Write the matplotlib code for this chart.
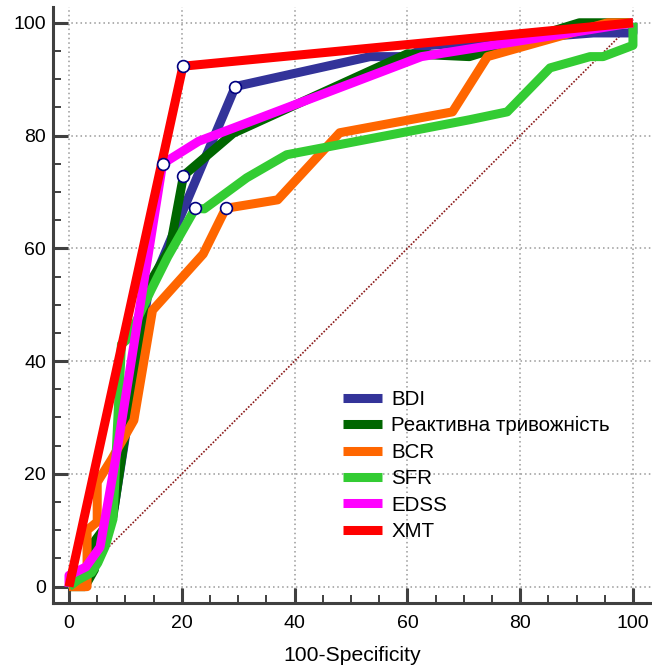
import matplotlib
matplotlib.use("Agg")
import matplotlib.pyplot as plt
from matplotlib.ticker import MultipleLocator

plt.rcParams['font.family'] = ['Liberation Sans', 'DejaVu Sans']

# Data (100-Specificity, Sensitivity)
bdi_x = [0, 3, 5, 8, 14, 29.5, 53.4, 60, 64, 93, 100, 100]
bdi_y = [0, 2, 6, 14, 52, 88.7, 94, 94, 96, 98.2, 98.2, 100]

rt_x = [0, 2.8, 4.5, 4.5, 7.8, 13.8, 17.9, 20.3, 29.1, 60, 71, 90.5, 100]
rt_y = [0, 0, 3, 8, 12.5, 53, 60, 72.9, 80.4, 94.5, 94, 100, 100]

bcr_x = [0, 3.2, 3.2, 5, 5, 7.5, 11.5, 14.8, 23.8, 27.8, 37, 48, 68, 74.2, 95.5, 100]
bcr_y = [0, 0, 10, 11.5, 18.5, 22.5, 29.5, 49, 59, 67.1, 68.6, 80.5, 84.2, 94, 100, 100]

sfr_x = [0, 1.6, 4, 5.1, 6.4, 7.8, 9.3, 10.5, 14.5, 17.5, 22.4, 24, 31.5, 38.6, 71, 77.7, 85.3, 92.4, 94.7, 100, 100]
sfr_y = [0, 1.2, 2.5, 4.2, 7.1, 12, 43, 44, 52.5, 58.5, 67.1, 67, 72.5, 76.6, 82.8, 84.2, 92, 94, 94, 96, 100]

edss_x = [0, 0, 3, 5.5, 8.5, 16.6, 23, 62.5, 100]
edss_y = [0, 2, 3.5, 7, 24, 75, 79, 94, 100]

xmt_x = [0, 20.2, 100]
xmt_y = [0, 92.3, 100]

# Operating points (markers)
op_x = [29.5, 20.3, 27.8, 22.4, 16.6, 20.2]
op_y = [88.7, 72.9, 67.1, 67.1, 75.0, 92.3]

labels = ['BDI', 'Реактивна тривожність', 'BCR', 'SFR', 'EDSS', 'XMT']
colors = ['#333399', '#006600', '#FF6600', '#33CC33', '#FF00FF', '#FF0000']
series = [(bdi_x, bdi_y), (rt_x, rt_y), (bcr_x, bcr_y), (sfr_x, sfr_y),
          (edss_x, edss_y), (xmt_x, xmt_y)]

xticks = [0, 20, 40, 60, 80, 100]
yticks = [0, 20, 40, 60, 80, 100]

fig = plt.figure(figsize=(6.52, 6.67), dpi=100)
ax = fig.add_axes([53/652, 1-603/667, (651-53)/652, (603-7)/667])

ax.set_xlim(-2.84, 103.2)
ax.set_ylim(-2.9, 102.8)

ax.set_xticks(xticks)
ax.set_yticks(yticks)
ax.xaxis.set_minor_locator(MultipleLocator(5))
ax.yaxis.set_minor_locator(MultipleLocator(5))

ax.grid(True, which='major', color='#999999', linestyle=(0, (1, 2)), linewidth=1.1)
ax.set_axisbelow(True)

for s in ['top', 'right']:
    ax.spines[s].set_visible(False)
for s in ['left', 'bottom']:
    ax.spines[s].set_color('#404040')
    ax.spines[s].set_linewidth(2.2)

ax.tick_params(which='major', direction='in', length=11, width=2.2, color='#404040',
               labelsize=14)
ax.tick_params(which='minor', direction='in', length=6, width=1.4, color='#404040')
ax.tick_params(axis='y', which='major', pad=5)
ax.tick_params(axis='x', which='major', pad=9)

# diagonal reference
ax.plot([0, 100], [0, 100], color='#8B1A1A', linestyle=(0, (1, 1)), linewidth=1.2, zorder=2)

for (x, y), c, lab in zip(series, colors, labels):
    ax.plot(x, y, color=c, linewidth=6.5, label=lab, solid_joinstyle='round',
            solid_capstyle='butt', zorder=3)

ax.plot(op_x, op_y, linestyle='none', marker='o', markersize=8.5,
        markerfacecolor='white', markeredgecolor='#000080', markeredgewidth=1.2, zorder=5)

ax.set_xlabel('100-Specificity', fontsize=15.2, labelpad=10)

leg = ax.legend(loc='upper left', bbox_to_anchor=(343/652, 1-390/667),
                bbox_transform=fig.transFigure, frameon=False, fontsize=14.8,
                handlelength=1.9, handletextpad=0.45, labelspacing=0.36,
                borderpad=0, borderaxespad=0)

fig.savefig('out.png', dpi=100)
